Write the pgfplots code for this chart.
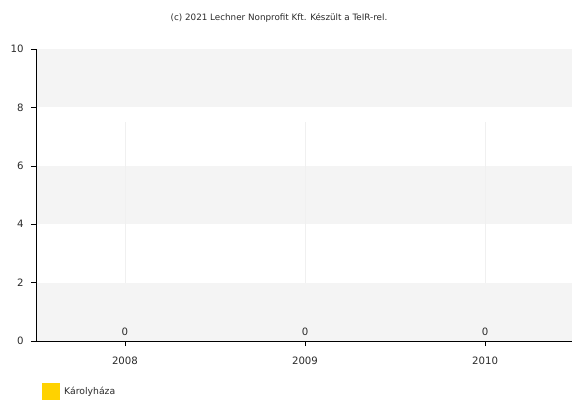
\documentclass[border=0pt]{standalone}
\usepackage{pgfplots}
\pgfplotsset{compat=1.18}
\usepackage{fontspec}
\setmainfont{DejaVu Sans}
\definecolor{band}{HTML}{F4F4F4}
\definecolor{txt}{HTML}{2A2A2A}
\definecolor{gold}{HTML}{FFD200}
\begin{document}
\begin{tikzpicture}[x=1bp,y=1bp]
\useasboundingbox (0,0) rectangle (572,401);
\begin{axis}[
  at={(36bp,60bp)}, anchor=south west,
  scale only axis, width=536bp, height=292bp,
  axis on top,
  xmin=-0.494, xmax=2.483, ymin=0, ymax=10,
  axis x line*=bottom, axis y line*=left,
  axis line style={black, line width=0.9pt},
  xtick={0,1,2}, xticklabels={2008,2009,2010},
  ytick={0,2,4,6,8,10},
  tick style={black, line width=0.6pt},
  tick align=outside, major tick length=5bp,
  ticklabel style={font=\fontsize{10.2}{12}\selectfont, text=txt},
  xticklabel style={yshift=-7bp},
  yticklabel style={xshift=-4bp},
  /pgf/number format/assume math mode=true,
  clip=false,
  every node near coord/.append style={font=\fontsize{10.2}{12}\selectfont, text=txt, yshift=2bp},
]
\fill[band] (axis cs:-0.494,0) rectangle (axis cs:2.483,2);
\fill[band] (axis cs:-0.494,4) rectangle (axis cs:2.483,6);
\fill[band] (axis cs:-0.494,8) rectangle (axis cs:2.483,10);
\draw[black!6] (axis cs:0,2) -- (axis cs:0,7.5);
\draw[black!6] (axis cs:1,2) -- (axis cs:1,7.5);
\draw[black!6] (axis cs:2,2) -- (axis cs:2,7.5);
\addplot[ybar, bar width=20bp, fill=gold, draw=none, nodes near coords] coordinates {(0,0) (1,0) (2,0)};
\end{axis}
\node[font=\fontsize{8.8}{10}\selectfont, text=txt] at (279,383) {(c) 2021 Lechner Nonprofit Kft. Készült a TeIR-rel.};
\fill[gold] (42,1) rectangle (60,18);
\node[anchor=west, font=\fontsize{9.3}{11}\selectfont, text=txt, inner sep=1bp] at (63,9.5) {Károlyháza};
\end{tikzpicture}
\end{document}
